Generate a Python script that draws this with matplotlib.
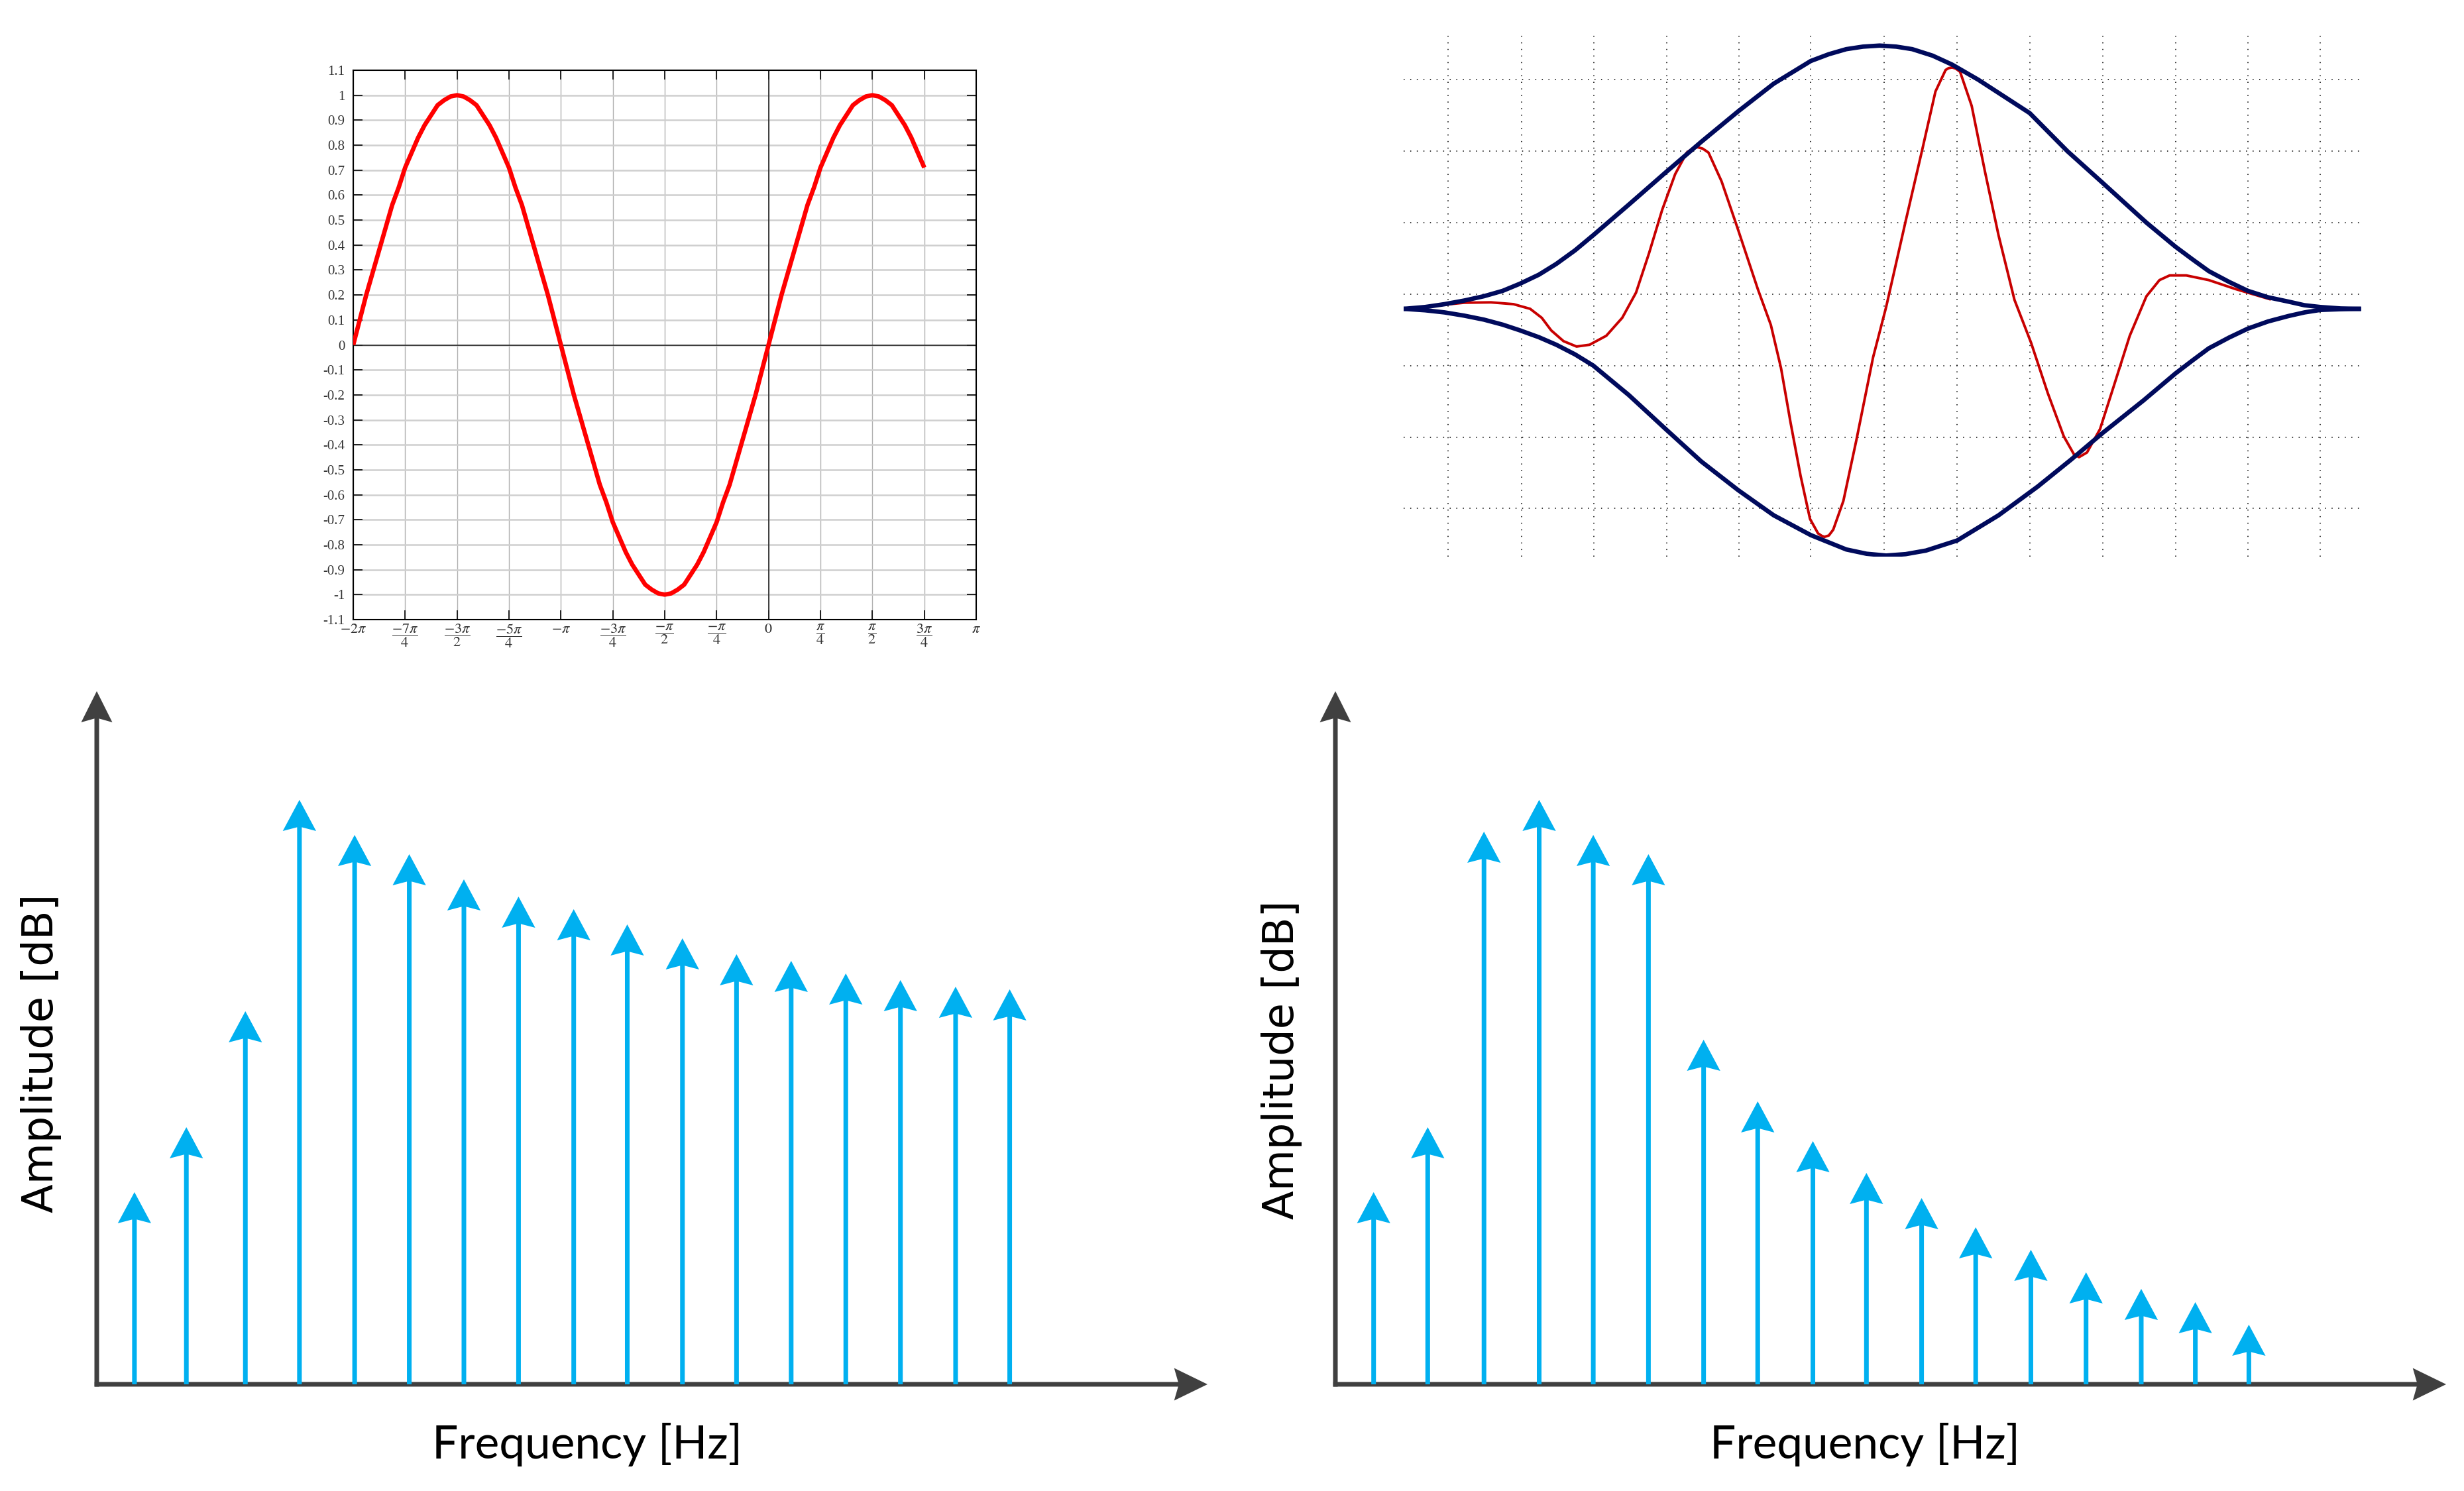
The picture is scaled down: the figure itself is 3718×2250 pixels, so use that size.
import numpy as np
import matplotlib
matplotlib.use('Agg')
import matplotlib.pyplot as plt

plt.rcParams['mathtext.fontset'] = 'stix'
plt.rcParams['axes.unicode_minus'] = False

W, H = 3718, 2250

# ---- top left: sine wave, read every pi/32 from -2pi to 3pi/4 ----
sine_steps = list(range(-64, 25))
sine_vals = [0.00, 0.10, 0.20, 0.29, 0.38, 0.47, 0.56, 0.63, 0.71, 0.77, 0.83, 0.88, 0.92, 0.96, 0.98, 0.995,
             1.00, 0.995, 0.98, 0.96, 0.92, 0.88, 0.83, 0.77, 0.71, 0.63, 0.56, 0.47, 0.38, 0.29, 0.20, 0.10,
             0.00, -0.10, -0.20, -0.29, -0.38, -0.47, -0.56, -0.63, -0.71, -0.77, -0.83, -0.88, -0.92, -0.96, -0.98, -0.995,
             -1.00, -0.995, -0.98, -0.96, -0.92, -0.88, -0.83, -0.77, -0.71, -0.63, -0.56, -0.47, -0.38, -0.29, -0.20, -0.10,
             0.00, 0.10, 0.20, 0.29, 0.38, 0.47, 0.56, 0.63, 0.71, 0.77, 0.83, 0.88, 0.92, 0.96, 0.98, 0.995,
             1.00, 0.995, 0.98, 0.96, 0.92, 0.88, 0.83, 0.77, 0.71]
pi_ticks = list(range(-8, 5))  # multiples of pi/4
pi_labels = [r'$-2\pi$', r'$\dfrac{-7\pi}{4}$', r'$\dfrac{-3\pi}{2}$', r'$\dfrac{-5\pi}{4}$', r'$-\pi$',
             r'$\dfrac{-3\pi}{4}$', r'$\dfrac{-\pi}{2}$', r'$\dfrac{-\pi}{4}$', r'$0$',
             r'$\dfrac{\pi}{4}$', r'$\dfrac{\pi}{2}$', r'$\dfrac{3\pi}{4}$', r'$\pi$']
y_ticks = [1.1, 1.0, 0.9, 0.8, 0.7, 0.6, 0.5, 0.4, 0.3, 0.2, 0.1, 0.0,
           -0.1, -0.2, -0.3, -0.4, -0.5, -0.6, -0.7, -0.8, -0.9, -1.0, -1.1]
y_labels = ['1.1', '1', '0.9', '0.8', '0.7', '0.6', '0.5', '0.4', '0.3', '0.2', '0.1', '0',
            '-0.1', '-0.2', '-0.3', '-0.4', '-0.5', '-0.6', '-0.7', '-0.8', '-0.9', '-1', '-1.1']

# ---- top right: wave packet and its envelope ----
up_x = [0.35, 0.64, 0.91, 1.18, 1.45, 1.71, 1.95, 2.21, 2.45, 2.71, 2.96, 3.45, 3.96, 4.45, 4.96,
        5.45, 5.96, 6.21, 6.45, 6.68, 6.91, 7.14, 7.36, 7.64, 7.91, 8.27, 8.98, 9.50, 9.99, 10.59,
        10.99, 11.23, 11.45, 11.73, 11.99, 12.27, 12.55, 12.77, 12.99, 13.27, 13.52]
up_y = [0.00, 0.05, 0.13, 0.23, 0.35, 0.50, 0.70, 0.95, 1.25, 1.63, 2.05, 2.90, 3.80, 4.65, 5.50,
        6.27, 6.90, 7.09, 7.23, 7.30, 7.33, 7.30, 7.23, 7.05, 6.80, 6.38, 5.45, 4.39, 3.50, 2.40,
        1.73, 1.37, 1.05, 0.75, 0.50, 0.32, 0.20, 0.10, 0.05, 0.01, 0.00]
lo_x = [0.35, 0.64, 0.91, 1.18, 1.45, 1.71, 1.95, 2.21, 2.45, 2.71, 2.96, 3.45, 3.96, 4.45, 4.96,
        5.45, 5.96, 6.45, 6.73, 7.00, 7.27, 7.55, 7.98, 8.55, 9.09, 9.55, 9.99, 10.55,
        10.99, 11.23, 11.45, 11.73, 11.99, 12.27, 12.55, 12.77, 12.99, 13.27, 13.52]
lo_y = [0.00, -0.04, -0.10, -0.19, -0.30, -0.44, -0.60, -0.79, -1.00, -1.27, -1.58, -2.40, -3.35, -4.25, -5.05,
        -5.75, -6.30, -6.70, -6.82, -6.87, -6.83, -6.73, -6.45, -5.75, -4.95, -4.20, -3.45, -2.55,
        -1.80, -1.43, -1.10, -0.80, -0.55, -0.35, -0.20, -0.10, -0.03, -0.01, 0.00]
wave_x = [0.84, 1.18, 1.55, 1.86, 2.09, 2.25, 2.38, 2.55, 2.73, 2.91, 3.14, 3.36, 3.55, 3.73, 3.91,
          4.09, 4.25, 4.33, 4.40, 4.47, 4.55, 4.73, 4.95, 5.23, 5.41, 5.55, 5.68, 5.82, 5.95, 6.06,
          6.11, 6.15, 6.21, 6.27, 6.41, 6.59, 6.82, 7.00, 7.27, 7.50, 7.68, 7.82, 7.86, 7.91, 7.96,
          8.02, 8.18, 8.36, 8.55, 8.77, 9.00, 9.23, 9.45, 9.59, 9.66, 9.77, 9.95, 10.14, 10.36, 10.59,
          10.77, 10.91, 11.14, 11.45, 11.82, 12.29]
wave_y = [0.10, 0.17, 0.18, 0.13, 0.00, -0.25, -0.60, -0.90, -1.05, -1.00, -0.75, -0.25, 0.45, 1.55, 2.75,
          3.75, 4.35, 4.46, 4.50, 4.46, 4.35, 3.55, 2.25, 0.55, -0.45, -1.65, -3.15, -4.65, -5.85, -6.25,
          -6.32, -6.35, -6.31, -6.15, -5.35, -3.65, -1.35, 0.05, 2.45, 4.45, 6.05, 6.65, 6.70, 6.72, 6.69,
          6.60, 5.65, 3.85, 2.05, 0.25, -0.95, -2.35, -3.55, -4.05, -4.13, -4.00, -3.35, -2.15, -0.75, 0.35,
          0.80, 0.93, 0.93, 0.80, 0.55, 0.27]
grid_x = [0.96, 1.97, 2.97, 3.97, 4.97, 5.96, 6.97, 7.98, 8.98, 9.99, 10.99, 11.99, 12.99]
grid_y = [6.38, 4.39, 2.40, 0.41, -1.58, -3.57, -5.56]

# ---- bottom: line spectra ----
freq_a = [0.69, 1.64, 2.72, 3.71, 4.72, 5.72, 6.72, 7.72, 8.73, 9.71, 10.72, 11.71, 12.71, 13.71, 14.71, 15.72, 16.71]
amp_a = [2.90, 3.88, 5.63, 8.82, 8.29, 8.00, 7.62, 7.36, 7.17, 6.94, 6.73, 6.49, 6.39, 6.20, 6.10, 6.00, 5.96]
freq_b = [0.70, 1.69, 2.72, 3.73, 4.72, 5.73, 6.74, 7.73, 8.74, 9.72, 10.73, 11.72, 12.73, 13.74, 14.75, 15.74, 16.72]
amp_b = [2.90, 3.88, 8.34, 8.82, 8.29, 8.00, 5.20, 4.27, 3.67, 3.19, 2.81, 2.37, 2.03, 1.69, 1.44, 1.24, 0.90]

fig = plt.figure(figsize=(W / 100, H / 100), dpi=100)


def px_axes(x0, y0, x1, y1):
    return fig.add_axes([x0 / W, 1 - y1 / H, (x1 - x0) / W, (y1 - y0) / H])


# top left
ax = px_axes(533, 106, 1473, 935)
xs = np.array(sine_steps) * np.pi / 32
for k in pi_ticks:
    ax.axvline(k * np.pi / 4, color='#b0b0b0', lw=1.0, zorder=1)
for v in y_ticks[1:-1]:
    ax.axhline(v, color='#cfcfcf', lw=1.8, zorder=1)
ax.axhline(0, color='#222222', lw=1.2, zorder=2)
ax.axvline(0, color='#222222', lw=1.2, zorder=2)
ax.plot(xs, sine_vals, color='#ff0000', lw=4.8, solid_capstyle='butt', solid_joinstyle='round', zorder=3)
ax.set_xlim(-2 * np.pi, np.pi)
ax.set_ylim(-1.1, 1.1)
ax.set_xticks(np.array(pi_ticks) * np.pi / 4)
ax.set_xticklabels(pi_labels, fontsize=16, color='#333333')
ax.set_yticks(y_ticks)
ax.set_yticklabels(y_labels, fontsize=15, color='#333333', family='Liberation Serif')
ax.tick_params(direction='in', length=10, width=1.2, top=True, right=True, pad=3)
ax.tick_params(axis='y', pad=9)
for s in ax.spines.values():
    s.set_linewidth(1.5)

# top right
ax = px_axes(2118, 46, 3567, 840)
ax.set_xlim(0.345, 13.59)
ax.set_ylim(-6.90, 7.75)
ax.set_xticks(grid_x)
ax.set_yticks(grid_y)
ax.grid(True, color='black', lw=1.1, linestyle=(0, (1, 5.5)))
ax.tick_params(length=0, labelbottom=False, labelleft=False)
for s in ax.spines.values():
    s.set_visible(False)
ax.plot(wave_x, wave_y, color='#c80000', lw=2.8, solid_joinstyle='round', zorder=3)
ax.plot(up_x, up_y, color='#000a5c', lw=4.8, solid_joinstyle='round', zorder=4)
ax.plot(lo_x, lo_y, color='#000a5c', lw=4.8, solid_joinstyle='round', zorder=4)

# bottom spectra
blue = '#00b0f0'
axis_col = '#404040'
for (x0, freqs, amps, ylab_x, ylab_y, xlab_x) in [
        (146, freq_a, amp_a, 62, 1589, 886),
        (2015, freq_b, amp_b, 1934, 1599, 2814)]:
    ax = px_axes(x0, 1043, x0 + 1676, 2089)
    ax.set_xlim(0, 20.33)
    ax.set_ylim(0, 10.46)
    ax.axis('off')
    ax.arrow(-0.04, 0, 20.37, 0, width=0.07, head_width=0.49, head_length=0.61,
             length_includes_head=True, overhang=0.12, color=axis_col, lw=0, clip_on=False, zorder=2)
    ax.arrow(0, -0.035, 0, 10.495, width=0.085, head_width=0.57, head_length=0.47,
             length_includes_head=True, overhang=0.12, color=axis_col, lw=0, clip_on=False, zorder=2)
    for f, a in zip(freqs, amps):
        ax.arrow(f, 0, 0, a, width=0.085, head_width=0.61, head_length=0.47,
                 length_includes_head=True, overhang=0.12, color=blue, lw=0, clip_on=False, zorder=3)
    fig.text(ylab_x / W, 1 - ylab_y / H, 'Amplitude [dB]', rotation=90, ha='center', va='center',
             fontsize=46, family='DejaVu Sans', color='black')
    fig.text(xlab_x / W, 1 - 2180 / H, 'Frequency [Hz]', ha='center', va='center',
             fontsize=50, family='Lato', color='black')

fig.savefig('out.png', dpi=100, facecolor='white')
